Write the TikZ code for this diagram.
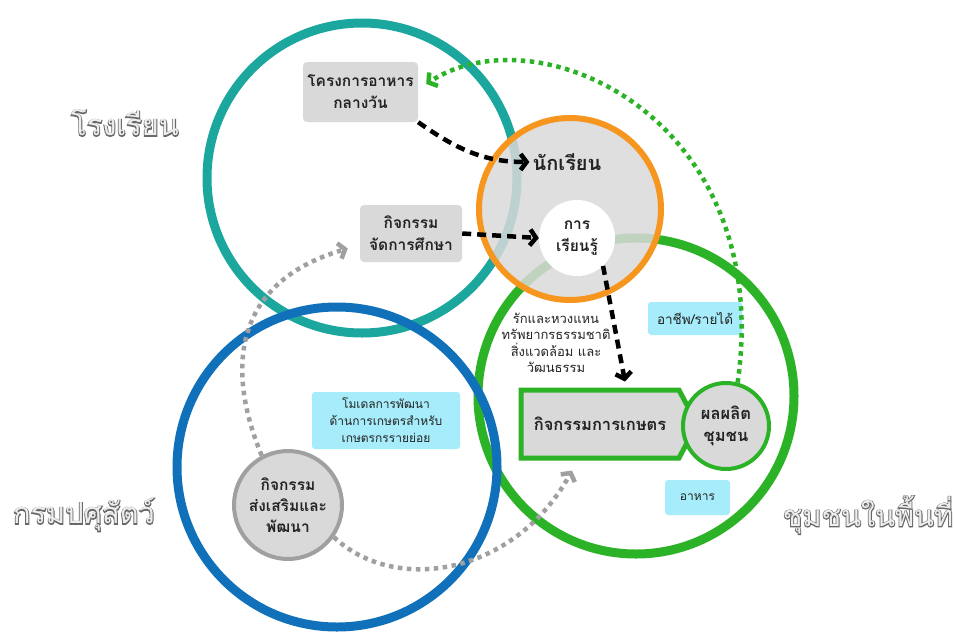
\documentclass[tikz,border=0pt]{standalone}
\usepackage{fontspec}
\setmainfont[Script=Thai]{Loma}
\newfontfamily\outlfont[Script=Thai,FakeBold=6]{Loma}
\usetikzlibrary{arrows.meta,shapes.symbols,calc}
\definecolor{tealc}{RGB}{27,166,158}
\definecolor{bluec}{RGB}{16,113,186}
\definecolor{greenc}{RGB}{44,178,38}
\definecolor{orangec}{RGB}{247,150,30}
\definecolor{boxgray}{RGB}{217,217,217}
\definecolor{lightblue}{RGB}{166,236,250}
\definecolor{dotgray}{RGB}{160,160,160}
\definecolor{txt}{RGB}{35,35,35}
\definecolor{outlgray}{RGB}{105,105,105}
\definecolor{outlfill}{RGB}{238,238,238}
\begin{document}
\begin{tikzpicture}[x=1pt,y=-1pt,
  ring/.style={line width=9pt},
  gbox/.style={fill=boxgray, rounded corners=4pt, align=center, text=txt,
    font=\bfseries\fontsize{15.5}{22}\selectfont, inner sep=0pt},
  lbbox/.style={fill=lightblue, rounded corners=3pt, align=center, text=txt,
    font=\fontsize{12}{17}\selectfont, inner sep=0pt},
  blackdash/.style={draw=black, line width=4.5pt, dash pattern=on 9pt off 6pt,
    -{Straight Barb[length=6pt,width=16pt]}},
  graydot/.style={draw=dotgray, line width=4.5pt, dash pattern=on 4.5pt off 4.5pt,
    -{Straight Barb[length=6pt,width=16pt]}},
  greendot/.style={draw=greenc, line width=4.5pt, dash pattern=on 4.5pt off 4.5pt,
    -{Straight Barb[length=6pt,width=16pt]}},
  outl/.style={text=outlgray, font=\outlfont\fontsize{29}{32}\selectfont},
  outlin/.style={text=outlfill, font=\fontsize{29}{32}\selectfont},
]
\useasboundingbox (0,0) rectangle (955,632);

% big rings
\draw[ring, draw=tealc] (362,178) circle[radius=155];
\draw[ring, draw=greenc] (636,396) circle[radius=158];
\draw[ring, draw=bluec] (337,467) circle[radius=160];

% student circle
\node[circle, draw=orangec, line width=6pt, fill=boxgray, fill opacity=0.85,
  draw opacity=1, minimum size=182pt, inner sep=0pt] (stud) at (570,209) {};
\node[font=\bfseries\fontsize{20}{22}\selectfont, text=txt, inner sep=3pt] (studtxt) at (567,162) {นักเรียน};
\node[circle, fill=white, minimum size=76pt, inner sep=0pt, align=center,
  font=\bfseries\fontsize{15.5}{22}\selectfont, text=txt] (learn) at (577,238) {การ\\เรียนรู้};

% boxes
\node[gbox, minimum width=115pt, minimum height=60pt] (food) at (360.5,92) {โครงการอาหาร\\กลางวัน};
\node[gbox, minimum width=102pt, minimum height=57pt] (edu) at (411,233.5) {กิจกรรม\\จัดการศึกษา};
\node[lbbox, minimum width=94pt, minimum height=33pt, font=\fontsize{13.5}{17}\selectfont] (job) at (695,318.5) {อาชีพ/รายได้};
\node[lbbox, minimum width=148pt, minimum height=57pt] (model) at (386,420.5) {โมเดลการพัฒนา\\ด้านการเกษตรสำหรับ\\เกษตรกรรายย่อย};
\node[lbbox, minimum width=65pt, minimum height=35pt] (meal) at (697.5,497.5) {อาหาร};

\node[align=center, text=txt, font=\fontsize{13}{16.5}\selectfont] (love) at (556,343)
  {รักและหวงแหน\\ทรัพยากรธรรมชาติ\\สิ่งแวดล้อม และ\\วัฒนธรรม};

% agriculture
\node[signal, signal to=east, signal pointer angle=124, draw=greenc, line width=5pt,
  fill=boxgray, minimum width=176pt, minimum height=68pt, inner sep=0pt,
  font=\bfseries\fontsize{16.5}{20}\selectfont, text=txt] (agri) at (600,424) {กิจกรรมการเกษตร\hspace{6pt}};
\node[circle, draw=greenc, line width=4pt, fill=boxgray, minimum size=86pt, inner sep=0pt,
  align=center, font=\bfseries\fontsize{16.5}{22}\selectfont, text=txt] (prod) at (726,426) {ผลผลิต\\ชุมชน};

% promotion circle
\node[circle, draw=dotgray, line width=4pt, fill=boxgray, minimum size=108pt, inner sep=0pt,
  align=center, font=\bfseries\fontsize{15.5}{21}\selectfont, text=txt] (promo) at (288,505) {กิจกรรม\\ส่งเสริมและ\\พัฒนา};

% side labels (outlined)
\node[outl] (schoolo) at (125,123) {โรงเรียน};
\node[outlin] (school) at (125,123) {โรงเรียน};
\node[outl] (dldo) at (84,515) {กรมปศุสัตว์};
\node[outlin] (dld) at (84,515) {กรมปศุสัตว์};
\node[outl] (commo) at (868,515) {ชุมชนในพื้นที่};
\node[outlin] (comm) at (868,515) {ชุมชนในพื้นที่};

% connectors
\draw[blackdash] (food.south east) to[out=-35, in=180] (studtxt.west);
\draw[blackdash] (edu.east) -- (learn.west);
\draw[blackdash] (learn.-47) -- ([xshift=25pt,yshift=6pt]agri.north);
\draw[greendot] (prod.75) .. controls (775,120) and (540,10) .. ([xshift=8pt,yshift=8pt]food.east);
\draw[graydot] (promo.118) .. controls (222,360) and (240,280) .. ([xshift=-12pt,yshift=-15pt]edu.west);
\draw[graydot] (promo.-35) .. controls (395,595) and (515,575) .. ([xshift=-28pt,yshift=-10pt]agri.south);
\end{tikzpicture}
\end{document}
